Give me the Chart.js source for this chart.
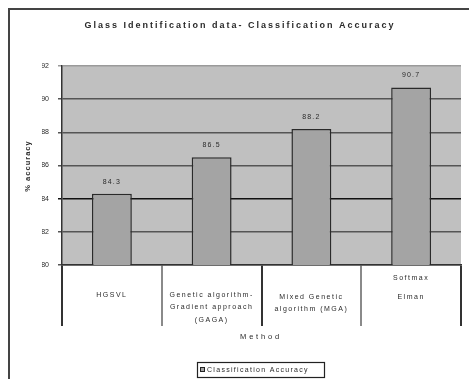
<!DOCTYPE html>
<html>
<head>
<meta charset="utf-8">
<script src="https://cdn.jsdelivr.net/npm/chart.js@4.4.1/dist/chart.umd.min.js"></script>
<style>
  html, body { margin: 0; padding: 0; background: #fff; }
  #wrap { width: 469px; height: 379px; position: relative; }
</style>
</head>
<body>
<div id="wrap"><canvas id="c" width="469" height="379"></canvas></div>
<script>
// Classification accuracy per method on the Glass Identification data
const methods = [
  ["HGSVL"],
  ["Genetic algorithm-", "Gradient approach", "(GAGA)"],
  ["Mixed Genetic", "algorithm (MGA)"],
  ["Softmax", "Elman"]
];
const accuracy = [84.3, 86.5, 88.2, 90.7];
const yTicks = [80, 82, 84, 86, 88, 90, 92];

const chartTitle = "Glass Identification data- Classification Accuracy";
const yTitle = "% accuracy";
const xTitle = "Method";
const seriesName = "Classification Accuracy";

const FONT = '"Liberation Sans", Arial, sans-serif';
const TEXT = '#2a2a2a';

// first-line offsets (below the x axis) for each category label block
const labelTop = [30, 30, 32, 13];
const labelLine = 12.5;

function txt(ctx, s, x, y, size, bold, spacing, align) {
  ctx.save();
  ctx.font = (bold ? 'bold ' : '') + size + 'px ' + FONT;
  ctx.letterSpacing = spacing + 'px';
  ctx.fillStyle = TEXT;
  ctx.textAlign = align || 'center';
  ctx.textBaseline = 'middle';
  ctx.fillText(s, x, y);
  ctx.restore();
}

const decor = {
  id: 'decor',
  beforeDraw(chart) {
    const { ctx, chartArea: a } = chart;
    ctx.save();
    ctx.fillStyle = '#fff';
    ctx.fillRect(0, 0, chart.width, chart.height);
    // outer frame
    ctx.strokeStyle = '#444';
    ctx.lineWidth = 2;
    ctx.beginPath();
    ctx.moveTo(9, chart.height + 2);
    ctx.lineTo(9, 9);
    ctx.lineTo(chart.width + 2, 9);
    ctx.stroke();
    // plot background
    ctx.fillStyle = '#c0c0c0';
    ctx.fillRect(a.left, a.top, a.right - a.left, a.bottom - a.top);
    ctx.restore();
  },
  afterDraw(chart) {
    const { ctx, chartArea: a } = chart;
    const xs = chart.scales.x;
    txt(ctx, chartTitle, 240, 26, 9, true, 2);

    // y title, rotated
    ctx.save();
    ctx.translate(28, 166);
    ctx.rotate(-Math.PI / 2);
    txt(ctx, yTitle, 0, 0, 7.5, true, 1);
    ctx.restore();

    // category labels in the table under the plot
    methods.forEach((lines, i) => {
      const x = xs.getPixelForValue(i);
      lines.forEach((s, j) => {
        const y = a.bottom + labelTop[i] + j * (i === 3 ? 19 : labelLine);
        txt(ctx, s, x, y, 7, false, 1.5);
      });
    });

    txt(ctx, xTitle, 261, 337, 7.5, false, 2.8);

    // value labels above bars
    const meta = chart.getDatasetMeta(0);
    meta.data.forEach((bar, i) => {
      txt(ctx, String(accuracy[i]), bar.x, bar.y - 12, 7, false, 1.2);
    });

    // legend box
    ctx.save();
    ctx.strokeStyle = '#222';
    ctx.lineWidth = 1.2;
    ctx.strokeRect(197.5, 362.5, 127, 15);
    ctx.fillStyle = '#a4a4a4';
    ctx.fillRect(200, 367, 5, 5);
    ctx.strokeStyle = '#222';
    ctx.lineWidth = 1;
    ctx.strokeRect(200.5, 367.5, 4, 4);
    ctx.restore();
    txt(ctx, seriesName, 207, 370, 7, false, 1.3, 'left');
  }
};

new Chart(document.getElementById('c'), {
  type: 'bar',
  data: {
    labels: methods,
    datasets: [{
      label: seriesName,
      data: accuracy,
      backgroundColor: '#a4a4a4',
      borderColor: '#2a2a2a',
      borderWidth: 1.5,
      borderSkipped: 'bottom',
      barPercentage: 0.4,
      categoryPercentage: 1.0
    }]
  },
  options: {
    responsive: false,
    animation: false,
    devicePixelRatio: 1,
    layout: { padding: { left: 42, top: 66, right: 8, bottom: 0 } },
    plugins: { legend: { display: false }, title: { display: false }, tooltip: { enabled: false } },
    scales: {
      x: {
        offset: true,
        afterFit(s) { s.height = 114; },
        border: { display: true, color: '#333', width: 1.5 },
        grid: {
          offset: true,
          drawOnChartArea: false,
          drawTicks: true,
          tickLength: 61,
          lineWidth: 2,
          color: (c) => (c.index % 2 === 1 ? '#8a8a8a' : '#333')
        },
        ticks: { display: false }
      },
      y: {
        min: yTicks[0],
        max: yTicks[yTicks.length - 1],
        afterFit(s) { s.width = 20; },
        afterBuildTicks(s) { s.ticks = yTicks.map(v => ({ value: v })); },
        border: { display: true, color: '#333', width: 1.5 },
        grid: {
          tickLength: 4,
          lineWidth: 1.5,
          color: (c) => {
            const v = c.tick && c.tick.value;
            if (v === 92) return '#9a9a9a';
            if (v === 84) return '#111';
            return '#555';
          }
        },
        ticks: {
          padding: 9,
          color: TEXT,
          font: { family: FONT, size: 7 }
        }
      }
    }
  },
  plugins: [decor]
});
</script>
</body>
</html>
